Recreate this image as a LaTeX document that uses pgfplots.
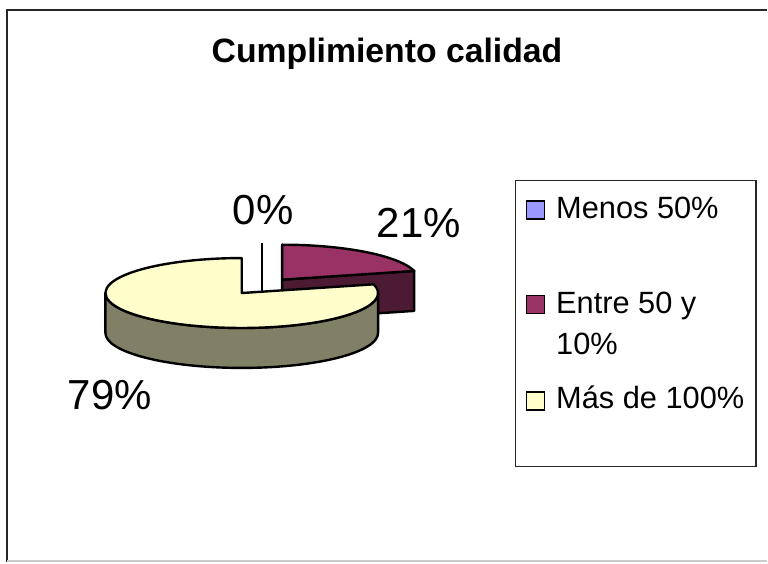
\documentclass[border=0pt]{standalone}
\usepackage{pgfplots}
\pgfplotsset{compat=1.18}
\usepackage{pgfplotstable}
\usepackage{fontspec}
\setmainfont{Liberation Sans}
\definecolor{cA}{HTML}{9999FF}
\definecolor{cB}{HTML}{993366}
\definecolor{cBd}{HTML}{4D1A33}
\definecolor{cC}{HTML}{FFFFCC}
\definecolor{cCd}{HTML}{808066}

\pgfplotstableread{
label value
Menos 0
Entre 21
Mas 79
}\piedata

\begin{document}
\begin{tikzpicture}
\pgfplotstablegetelem{0}{value}\of\piedata \let\vA\pgfplotsretval
\pgfplotstablegetelem{1}{value}\of\piedata \let\vB\pgfplotsretval
\pgfplotstablegetelem{2}{value}\of\piedata \let\vC\pgfplotsretval
\pgfmathsetmacro\tot{\vA+\vB+\vC}
\def\cx{262.3}\def\cy{276.3}\def\rx{136.5}\def\ry{35}\def\dd{0.242}
\def\rxpt{68.25pt}\def\rypt{17.5pt}\def\deppt{20pt}\def\dep{40}
% slice angles (clockwise from 12 o'clock)
\pgfmathsetmacro\aA{90}
\pgfmathsetmacro\bA{\aA-(\vA/\tot)*360}
\pgfmathsetmacro\aB{\bA}
\pgfmathsetmacro\bB{\aB-(\vB/\tot)*360}
\pgfmathsetmacro\aC{\bB}
\pgfmathsetmacro\bC{\aC-(\vC/\tot)*360}
% exploded apexes
\pgfmathsetmacro\mA{(\aA+\bA)/2}
\pgfmathsetmacro\PAx{\cx+\dd*\rx*cos(\mA)}
\pgfmathsetmacro\PAy{\cy+\dd*\ry*sin(\mA)}
\pgfmathsetmacro\mB{(\aB+\bB)/2}
\pgfmathsetmacro\PBx{\cx+\dd*\rx*cos(\mB)}
\pgfmathsetmacro\PBy{\cy+\dd*\ry*sin(\mB)}
\pgfmathsetmacro\mC{(\aC+\bC)/2}
\pgfmathsetmacro\PCx{\cx+\dd*\rx*cos(\mC)}
\pgfmathsetmacro\PCy{\cy+\dd*\ry*sin(\mC)}
% rim points
\pgfmathsetmacro\SAx{\PAx+\rx*cos(\aA)}
\pgfmathsetmacro\SAy{\PAy+\ry*sin(\aA)}
\pgfmathsetmacro\SBx{\PBx+\rx*cos(\aB)}
\pgfmathsetmacro\SBy{\PBy+\ry*sin(\aB)}
\pgfmathsetmacro\EBx{\PBx+\rx*cos(\bB)}
\pgfmathsetmacro\EBy{\PBy+\ry*sin(\bB)}
\pgfmathsetmacro\SCx{\PCx+\rx*cos(\aC)}
\pgfmathsetmacro\SCy{\PCy+\ry*sin(\aC)}
% visible outer side of slice C (front half)
\pgfmathsetmacro\sCa{min(\aC,0)}
\pgfmathsetmacro\sCb{max(\bC,-180)}
\pgfmathsetmacro\FCx{\PCx+\rx*cos(\sCa)}
\pgfmathsetmacro\FCy{\PCy+\ry*sin(\sCa)}
\begin{axis}[width=384pt,height=281.5pt,scale only axis,
  xmin=0,xmax=768,ymin=0,ymax=563,hide axis,clip=false]
\fill[white] (0,0) rectangle (768,563);
% chart border
\draw[line width=1pt,black!85] (7,0) -- (7,553) -- (768,553);
\draw[line width=0.8pt,black!20] (7,1) -- (768,1);
% title
\node[anchor=base,font=\fontsize{16.9}{20}\selectfont\bfseries,inner sep=0pt] at (387.5,500.7) {Cumplimiento calidad};
% slice B (21%)
\filldraw[fill=cBd,draw=black,line width=1.2pt,line join=round]
  (\PBx,\PBy) -- (\EBx,\EBy) -- ([yshift=-\deppt]\EBx,\EBy) -- ([yshift=-\deppt]\PBx,\PBy) -- cycle;
\filldraw[fill=cB,draw=black,line width=1.2pt,line join=round]
  (\PBx,\PBy) -- (\SBx,\SBy) arc[start angle=\aB,end angle=\bB,x radius=\rxpt,y radius=\rypt] -- cycle;
% slice A (0%)
\draw[black,line width=1.2pt] (\SAx,\SAy) -- ([yshift=-\deppt]\PAx,\PAy);
% slice C (79%)
\filldraw[fill=cCd,draw=black,line width=1.2pt,line join=round]
  (\FCx,\FCy) arc[start angle=\sCa,end angle=\sCb,x radius=\rxpt,y radius=\rypt]
  -- ++(0,-\deppt) arc[start angle=\sCb,end angle=\sCa,x radius=\rxpt,y radius=\rypt] -- cycle;
\filldraw[fill=cC,draw=black,line width=1.2pt,line join=round]
  (\PCx,\PCy) -- (\SCx,\SCy) arc[start angle=\aC,end angle=\bC,x radius=\rxpt,y radius=\rypt] -- cycle;
% data labels
\node[anchor=base,font=\fontsize{21}{25}\selectfont,inner sep=0pt] at (263.5,338) {0\%};
\node[anchor=base,font=\fontsize{21}{25}\selectfont,inner sep=0pt] at (419.5,324.7) {21\%};
\node[anchor=base,font=\fontsize{21}{25}\selectfont,inner sep=0pt] at (110,153) {79\%};
% legend
\draw[line width=0.6pt,black!85] (516,382) rectangle (757,96);
\filldraw[fill=cA,draw=black,line width=0.8pt] (527,344) rectangle (545,362);
\filldraw[fill=cB,draw=black,line width=0.8pt] (527,249) rectangle (545,267);
\filldraw[fill=cC,draw=black,line width=0.8pt] (527,152.3) rectangle (545,170.3);
\node[anchor=base west,font=\fontsize{15.4}{18}\selectfont,inner sep=0pt] at (556.5,344.7) {Menos 50\%};
\node[anchor=base west,font=\fontsize{15.4}{18}\selectfont,inner sep=0pt] at (556.5,249) {Entre 50 y};
\node[anchor=base west,font=\fontsize{15.4}{18}\selectfont,inner sep=0pt] at (556.5,208) {10\%};
\node[anchor=base west,font=\fontsize{15.4}{18}\selectfont,inner sep=0pt] at (556.5,154) {Más de 100\%};
\end{axis}
\end{tikzpicture}
\end{document}
